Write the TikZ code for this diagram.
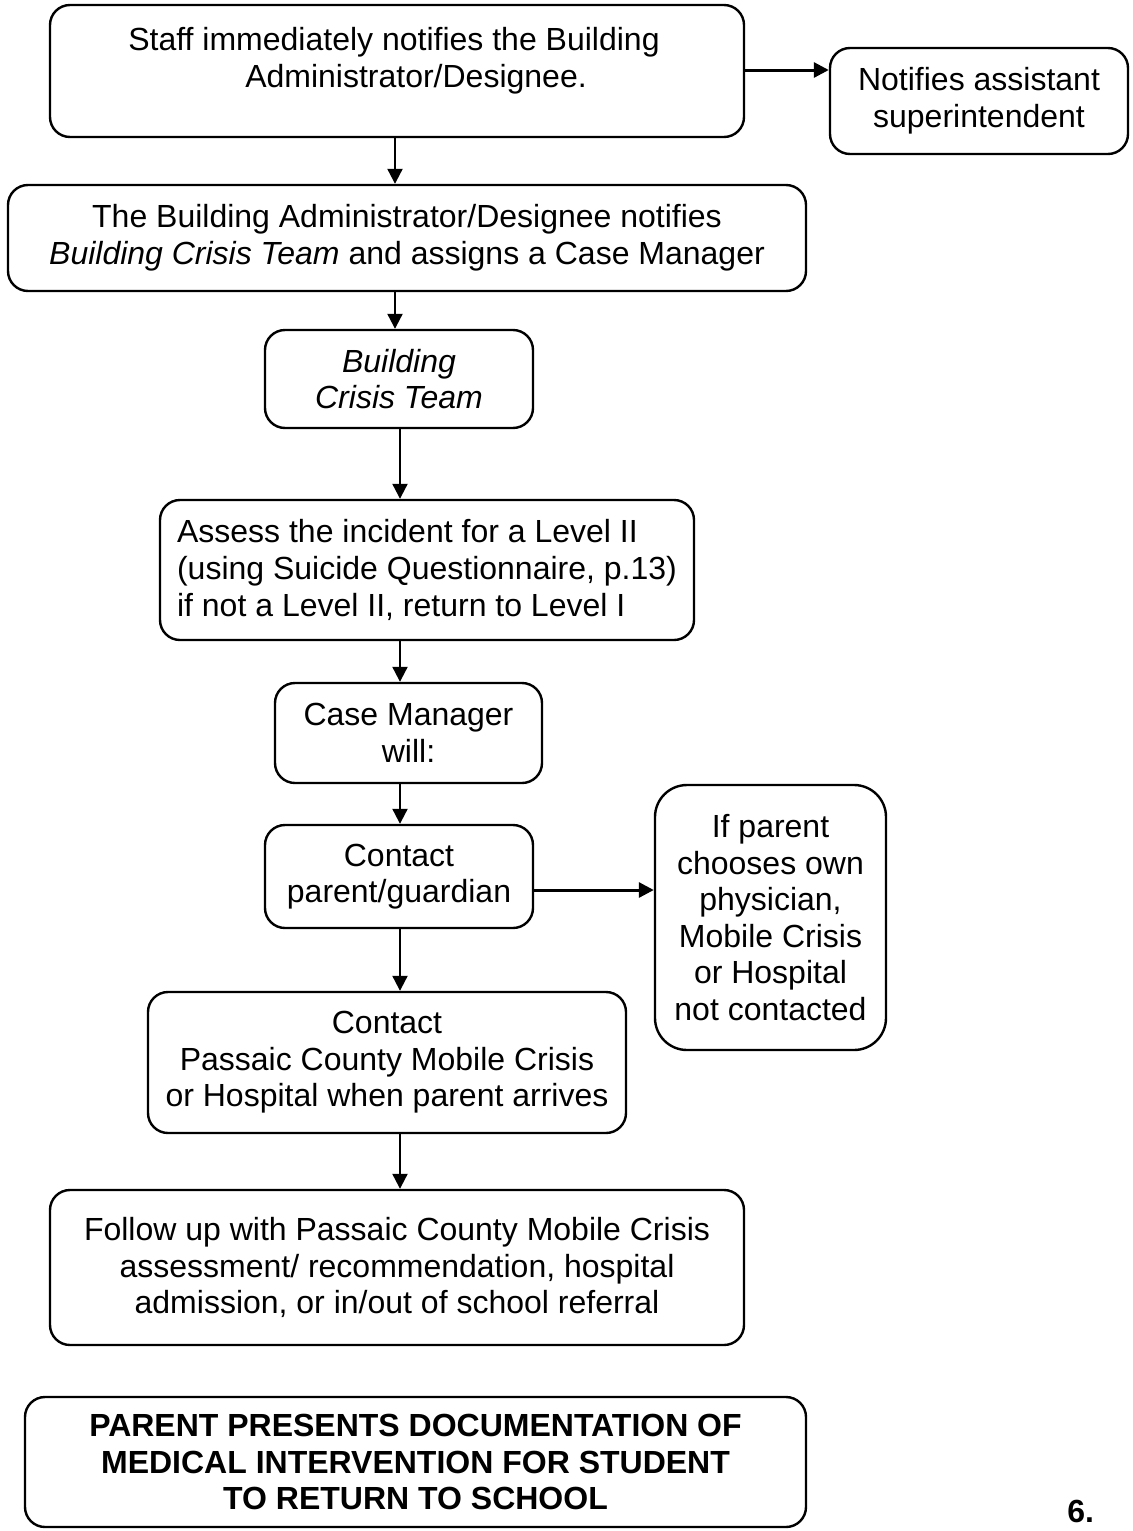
\documentclass[tikz,border=0pt]{standalone}
\usepackage{fontspec}
\setmainfont{Liberation Sans}
\usetikzlibrary{arrows.meta}
\begin{document}
\begin{tikzpicture}[x=0.5pt,y=-0.5pt,
  box/.style={draw,line width=1.2pt,rounded corners=10pt,align=center,
    font=\fontsize{16}{18.3}\selectfont,inner sep=0pt},
  arr/.style={line width=1.1pt,-{Triangle[length=7.5pt,width=7.5pt]}}]
  \useasboundingbox (0,0) rectangle (1133,1531);
  % boxes, top to bottom
  \node[box,minimum width=347pt,minimum height=66pt] (staff) at (397,71) {};
  \node[align=center,font=\fontsize{16}{18.3}\selectfont] (stafftxt) at (394,61)
    {Staff immediately notifies the Building\\\hspace*{22pt}Administrator/Designee.};
  \node[box,minimum width=149pt,minimum height=53pt] (notify) at (979,101)
    {Notifies assistant\\superintendent};
  \node[box,minimum width=399pt,minimum height=53pt] (admin) at (407,238)
    {The Building Administrator/Designee notifies\\\textit{Building Crisis Team} and assigns a Case Manager};
  \node[box,minimum width=134pt,minimum height=49pt] (team) at (399,379)
    {\textit{Building}\\\textit{Crisis Team}};
  \node[box,align=left,minimum width=267pt,minimum height=70pt] (assess) at (427,570)
    {Assess the incident for a Level II\\(using Suicide Questionnaire, p.13)\\if not a Level II, return to Level I};
  \node[box,minimum width=133.5pt,minimum height=50pt] (manager) at (408.5,733)
    {Case Manager\\will:};
  \node[box,minimum width=134pt,minimum height=51.5pt] (contact) at (399,876.5)
    {Contact\\parent/guardian};
  \node[box,rounded corners=16pt,minimum width=115.5pt,minimum height=132.5pt] (physician) at (770.5,917.5)
    {If parent\\chooses own\\physician,\\Mobile Crisis\\or Hospital\\not contacted};
  \node[box,minimum width=239pt,minimum height=70.5pt] (mobile) at (387,1062.5)
    {Contact\\Passaic County Mobile Crisis\\or Hospital when parent arrives};
  \node[box,minimum width=347pt,minimum height=77.5pt] (followup) at (397,1267.5)
    {Follow up with Passaic County Mobile Crisis\\assessment/ recommendation, hospital\\admission, or in/out of school referral};
  \node[box,font=\fontsize{16}{18.3}\selectfont\bfseries,minimum width=390.5pt,minimum height=65pt] (documents) at (415.5,1462)
    {PARENT PRESENTS DOCUMENTATION OF\\MEDICAL INTERVENTION FOR STUDENT\\TO RETURN TO SCHOOL};
  \node[anchor=base west,inner sep=0pt,font=\fontsize{16}{18.3}\selectfont\bfseries] (page) at (1067,1522) {6.};
  % connectors
  \draw[arr,line width=1.5pt] (staff.east |- 0,70) -- (notify.west |- 0,70);
  \draw[arr] (staff.south -| 395,0) -- (admin.north -| 395,0);
  \draw[arr] (admin.south -| 395,0) -- (team.north -| 395,0);
  \draw[arr] (team.south -| 400,0) -- (assess.north -| 400,0);
  \draw[arr] (assess.south -| 400,0) -- (manager.north -| 400,0);
  \draw[arr] (manager.south -| 400,0) -- (contact.north -| 400,0);
  \draw[arr,line width=1.5pt] (contact.east |- 0,890) -- (physician.west |- 0,890);
  \draw[arr] (contact.south -| 400,0) -- (mobile.north -| 400,0);
  \draw[arr] (mobile.south -| 400,0) -- (followup.north -| 400,0);
\end{tikzpicture}
\end{document}
